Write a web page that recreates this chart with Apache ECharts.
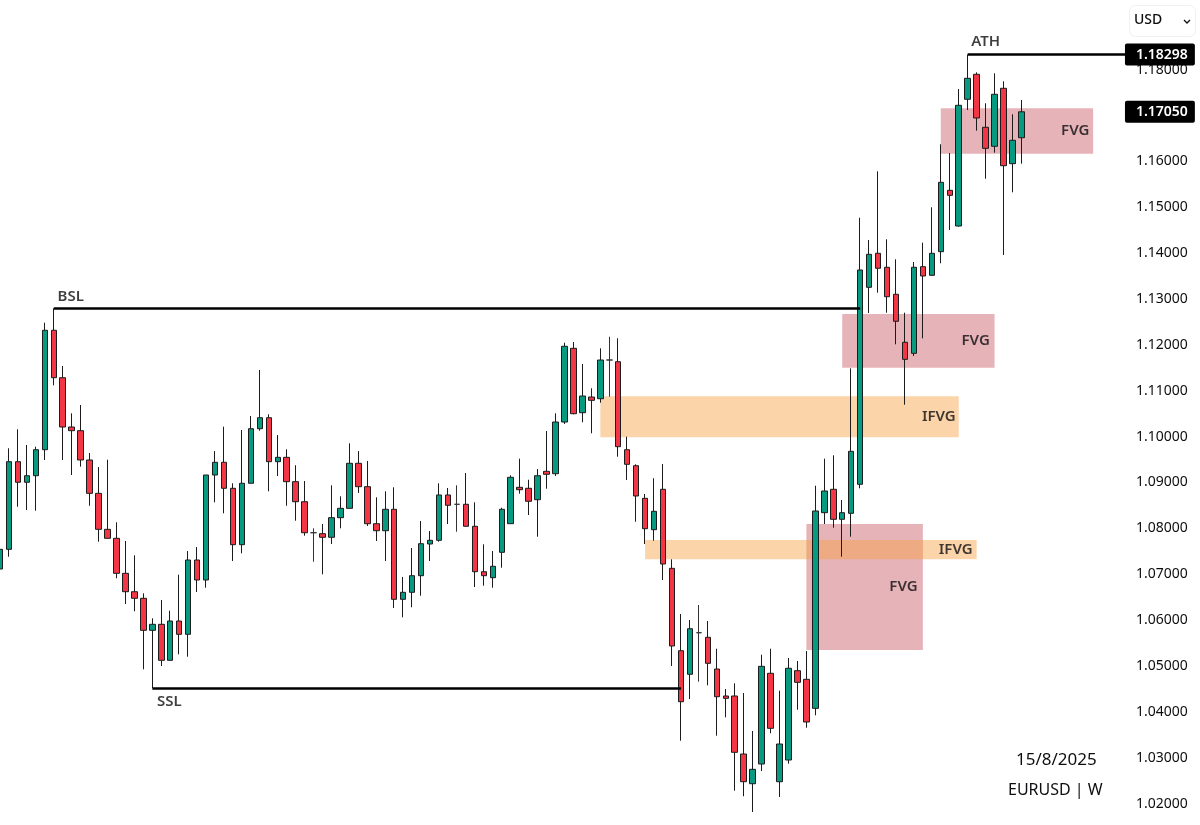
<!DOCTYPE html>
<html>
<head>
<meta charset="utf-8">
<title>EURUSD W</title>
<script src="https://cdn.jsdelivr.net/npm/echarts@6/dist/echarts.min.js"></script>
<style>
  html, body { margin: 0; padding: 0; background: #fff; }
  #chart { width: 1200px; height: 825px; }
</style>
</head>
<body>
<div id="chart"></div>
<script>
// weekly candles
const opens = [
  1.07081, 1.07510, 1.09421, 1.08972, 1.09115, 1.09682, 1.12286, 1.11252, 1.10177, 1.10097,
  1.09458, 1.08731, 1.07946, 1.07750, 1.06987, 1.06586, 1.06442, 1.05744, 1.05875, 1.05090,
  1.05947, 1.05657, 1.07277, 1.06841, 1.09131, 1.09408, 1.08841, 1.07611, 1.08950, 1.10140,
  1.10380, 1.09421, 1.09516, 1.08985, 1.08548, 1.07872, 1.07851, 1.07772, 1.08200, 1.08404,
  1.09386, 1.08876, 1.08069, 1.07916, 1.08383, 1.06420, 1.06573, 1.06935, 1.07626, 1.07707,
  1.08695, 1.08492, 1.08492, 1.08012, 1.07022, 1.06891, 1.07445, 1.08069, 1.08862, 1.08841,
  1.08592, 1.09211, 1.09159, 1.10286, 1.11893, 1.10489, 1.10831, 1.10794, 1.11638, 1.11601,
  1.09682, 1.09333, 1.08622, 1.07938, 1.08819, 1.07096, 1.05299, 1.04785, 1.05692, 1.05592,
  1.04900, 1.04312, 1.04312, 1.03047, 1.02399, 1.02829, 1.04807, 1.02443, 1.02916, 1.04864,
  1.04676, 1.04043, 1.08309, 1.08819, 1.08165, 1.08295, 1.08928, 1.13223, 1.13965, 1.13660,
  1.13071, 1.12024, 1.11784, 1.13673, 1.13485, 1.14000, 1.15338, 1.14560, 1.17323, 1.17868,
  1.16712, 1.16298, 1.17563, 1.15919, 1.16485
];
const closes = [
  1.07510, 1.09421, 1.08972, 1.09115, 1.09682, 1.12286, 1.11252, 1.10177, 1.10097, 1.09458,
  1.08731, 1.07946, 1.07750, 1.06987, 1.06586, 1.06442, 1.05744, 1.05875, 1.05090, 1.05947,
  1.05657, 1.07277, 1.06841, 1.09131, 1.09408, 1.08841, 1.07611, 1.08950, 1.10140, 1.10380,
  1.09421, 1.09516, 1.08985, 1.08548, 1.07872, 1.07872, 1.07772, 1.08200, 1.08404, 1.09386,
  1.08876, 1.08069, 1.07916, 1.08383, 1.06420, 1.06573, 1.06935, 1.07633, 1.07707, 1.08695,
  1.08470, 1.08492, 1.08012, 1.07022, 1.06935, 1.07140, 1.08383, 1.09080, 1.08810, 1.08557,
  1.09115, 1.09146, 1.10286, 1.11937, 1.10467, 1.10853, 1.10759, 1.11638, 1.11638, 1.09748,
  1.09364, 1.08673, 1.07960, 1.08339, 1.07190, 1.05402, 1.04187, 1.05779, 1.05692, 1.05024,
  1.04296, 1.04261, 1.03084, 1.02443, 1.02713, 1.04959, 1.03607, 1.03265, 1.04916, 1.04610,
  1.03745, 1.08346, 1.08782, 1.08165, 1.08309, 1.09647, 1.13601, 1.13943, 1.13638, 1.13018,
  1.12482, 1.11653, 1.13660, 1.13470, 1.13965, 1.15513, 1.15229, 1.17192, 1.17781, 1.16915,
  1.16254, 1.17432, 1.15875, 1.16429, 1.17050
];
const lows = [
  1.07060, 1.07349, 1.08439, 1.08367, 1.08352, 1.09458, 1.11086, 1.09458, 1.09131, 1.09312,
  1.08461, 1.07676, 1.07750, 1.06878, 1.06318, 1.06159, 1.04894, 1.04486, 1.04966, 1.05090,
  1.05221, 1.05169, 1.06579, 1.06673, 1.08535, 1.08295, 1.07255, 1.07423, 1.08950, 1.10097,
  1.08775, 1.09109, 1.08461, 1.08134, 1.07807, 1.07240, 1.06965, 1.07626, 1.07968, 1.08404,
  1.08738, 1.08019, 1.07691, 1.07255, 1.06231, 1.06028, 1.06246, 1.06499, 1.07255, 1.07676,
  1.08062, 1.07894, 1.08012, 1.06688, 1.06717, 1.06673, 1.07109, 1.08069, 1.08723, 1.08258,
  1.07785, 1.08832, 1.09109, 1.10243, 1.10454, 1.10280, 1.10040, 1.10707, 1.10838, 1.09530,
  1.09022, 1.08112, 1.07626, 1.07698, 1.06841, 1.04966, 1.03337, 1.04246, 1.04624, 1.04545,
  1.03446, 1.03847, 1.02247, 1.02125, 1.01782, 1.02676, 1.03498, 1.02109, 1.02836, 1.04013,
  1.03620, 1.03891, 1.08062, 1.07981, 1.07349, 1.07785, 1.08841, 1.12663, 1.13106, 1.12670,
  1.11980, 1.10664, 1.11725, 1.12111, 1.13470, 1.13747, 1.14473, 1.14545, 1.17089, 1.16638,
  1.15591, 1.16158, 1.13928, 1.15295, 1.15919
];
const highs = [
  1.07713, 1.09713, 1.10127, 1.09785, 1.09748, 1.12451, 1.12765, 1.11507, 1.10476, 1.10657,
  1.09610, 1.09305, 1.09464, 1.08099, 1.07691, 1.07380, 1.06551, 1.06006, 1.06405, 1.06172,
  1.06957, 1.07473, 1.07561, 1.09131, 1.09654, 1.10184, 1.08950, 1.10112, 1.10417, 1.11420,
  1.10454, 1.10003, 1.09691, 1.09344, 1.09000, 1.07968, 1.08062, 1.08906, 1.08666, 1.09822,
  1.09654, 1.09436, 1.08644, 1.08775, 1.08862, 1.06907, 1.07539, 1.08128, 1.07910, 1.08950,
  1.08847, 1.08906, 1.09174, 1.08535, 1.07620, 1.07473, 1.08417, 1.09124, 1.09486, 1.09028,
  1.09261, 1.10090, 1.10476, 1.12015, 1.12031, 1.11551, 1.11021, 1.11893, 1.12146, 1.12111,
  1.09966, 1.09364, 1.08716, 1.09059, 1.09370, 1.07292, 1.06100, 1.05969, 1.06296, 1.05947,
  1.05343, 1.04464, 1.04589, 1.04377, 1.03549, 1.05212, 1.05343, 1.04428, 1.05140, 1.05075,
  1.05293, 1.08897, 1.09486, 1.09560, 1.08585, 1.11457, 1.14741, 1.14255, 1.15753, 1.14270,
  1.13834, 1.12670, 1.13775, 1.14196, 1.14968, 1.16342, 1.16152, 1.17547, 1.18298, 1.17911,
  1.17236, 1.17890, 1.17715, 1.16996, 1.17307
];

// y axis labels
const yTicks = [1.02, 1.03, 1.04, 1.05, 1.06, 1.07, 1.08, 1.09, 1.10, 1.11, 1.12, 1.13, 1.14, 1.15, 1.16, 1.17, 1.18];
const priceTags = [1.18298, 1.1705];

// empty weeks to the right of the last candle
const emptyWeeks = 12;
const categories = Array.from({ length: opens.length + emptyWeeks }, (_, i) => 'W' + (i + 1));

// horizontal levels: [from candle, to candle, price]
const bslLevel = [6, 96, 1.12761];
const sslLevel = [17, 76, 1.04479];
const athLevel = [108, 126, 1.18298];

// zones: [from candle, to candle, top, bottom]
const fvgZones = [
  [90, 103, 1.08062, 1.05315],
  [94, 111, 1.12641, 1.11470],
  [105, 122, 1.17127, 1.16137]
];
const ifvgZones = [
  [67, 107, 1.10847, 1.09953],
  [72, 109, 1.07713, 1.07292]
];

// text on the chart
const noteText = ['BSL', 'SSL', 'ATH', 'FVG', 'FVG', 'FVG', 'IFVG', 'IFVG'];
const noteCandle = [8, 19, 110, 120, 109, 101, 105, 107];
const notePrice = [1.13034, 1.04203, 1.18594, 1.16653, 1.12074, 1.06710, 1.10417, 1.07517];
const noteNudge = [-1, -1, 0, 0, -1, -1.5, -2, -3];

const FONT = '"Noto Sans", sans-serif';
const INK = '#0e0e10';

const chart = echarts.init(document.getElementById('chart'), null, { renderer: 'canvas' });

function levelLine(l) {
  return [{ coord: [l[0], l[2]] }, { coord: [l[1], l[2]] }];
}
function zoneArea(z, color) {
  return [
    { coord: [z[0], z[2]], itemStyle: { color: color } },
    { coord: [z[1], z[3]] }
  ];
}

const yAxisBase = {
  type: 'value',
  position: 'right',
  min: 1.01499,
  max: 1.19488,
  axisLine: { show: false },
  axisTick: { show: false },
  splitLine: { show: false }
};

chart.setOption({
  animation: false,
  backgroundColor: '#fff',
  grid: { left: 0, top: 0, width: (categories.length - 1) * 8.96, height: 825 },
  xAxis: {
    type: 'category',
    boundaryGap: false,
    data: categories,
    axisLine: { show: false },
    axisTick: { show: false },
    axisLabel: { show: false },
    splitLine: { show: false }
  },
  yAxis: [
    {
      ...yAxisBase,
      axisLabel: {
        customValues: yTicks,
        formatter: v => v.toFixed(5),
        fontFamily: FONT, fontSize: 14, color: INK, margin: 7,
        verticalAlign: 'top', lineHeight: 3
      }
    },
    {
      ...yAxisBase,
      z: 7,
      axisLabel: {
        customValues: priceTags,
        formatter: v => v.toFixed(5),
        fontFamily: FONT, fontSize: 14, fontWeight: 600, color: '#fff',
        backgroundColor: '#000', borderRadius: 2,
        padding: [4, 7, 4, 11], margin: -4
      }
    }
  ],
  series: [
    {
      type: 'candlestick',
      barWidth: 6,
      z: 3,
      data: opens.map((o, i) => [o, closes[i], lows[i], highs[i]]),
      itemStyle: {
        color: '#089981',
        color0: '#F23645',
        borderColor: '#1c1c1c',
        borderColor0: '#1c1c1c',
        borderColorDoji: '#333',
        borderWidth: 1
      },
      markArea: {
        silent: true,
        data: fvgZones.map(z => zoneArea(z, 'rgba(181,38,52,0.35)'))
          .concat(ifvgZones.map(z => zoneArea(z, 'rgba(249,160,65,0.45)')))
      },
      markLine: {
        silent: true,
        symbol: 'none',
        label: { show: false },
        lineStyle: { color: '#000', width: 2.5, type: 'solid' },
        data: [levelLine(bslLevel), levelLine(sslLevel), levelLine(athLevel)]
      }
    },
    {
      type: 'scatter',
      symbolSize: 1,
      z: 6,
      itemStyle: { color: 'transparent' },
      data: noteText.map((t, i) => ({
        value: [noteCandle[i], notePrice[i]],
        label: { formatter: t, offset: [noteNudge[i], 1] }
      })),
      label: {
        show: true,
        position: 'inside',
        fontFamily: FONT,
        fontSize: 15,
        fontWeight: 600,
        color: INK
      }
    }
  ],
  graphic: [
    {
      type: 'rect', left: 1129, top: 5, z: 10,
      shape: { width: 66, height: 31, r: 6 },
      style: { fill: '#fff', stroke: '#f0f0f0', lineWidth: 1 }
    },
    {
      type: 'text', left: 1134, top: 13, z: 11,
      style: { text: 'USD', font: '500 14px "Noto Sans", sans-serif', fill: INK }
    },
    {
      type: 'polyline', z: 11,
      shape: { points: [[1184, 20], [1187, 23], [1190, 20]] },
      style: { stroke: INK, lineWidth: 1.3, fill: null }
    },
    {
      type: 'text', left: 1016, top: 752, z: 11,
      style: { text: '15/8/2025', font: '17px "Noto Sans", sans-serif', fill: INK }
    },
    {
      type: 'text', left: 1008, top: 782, z: 11,
      style: { text: 'EURUSD | W', font: '16px "Noto Sans", sans-serif', fill: INK }
    }
  ]
});
</script>
</body>
</html>
